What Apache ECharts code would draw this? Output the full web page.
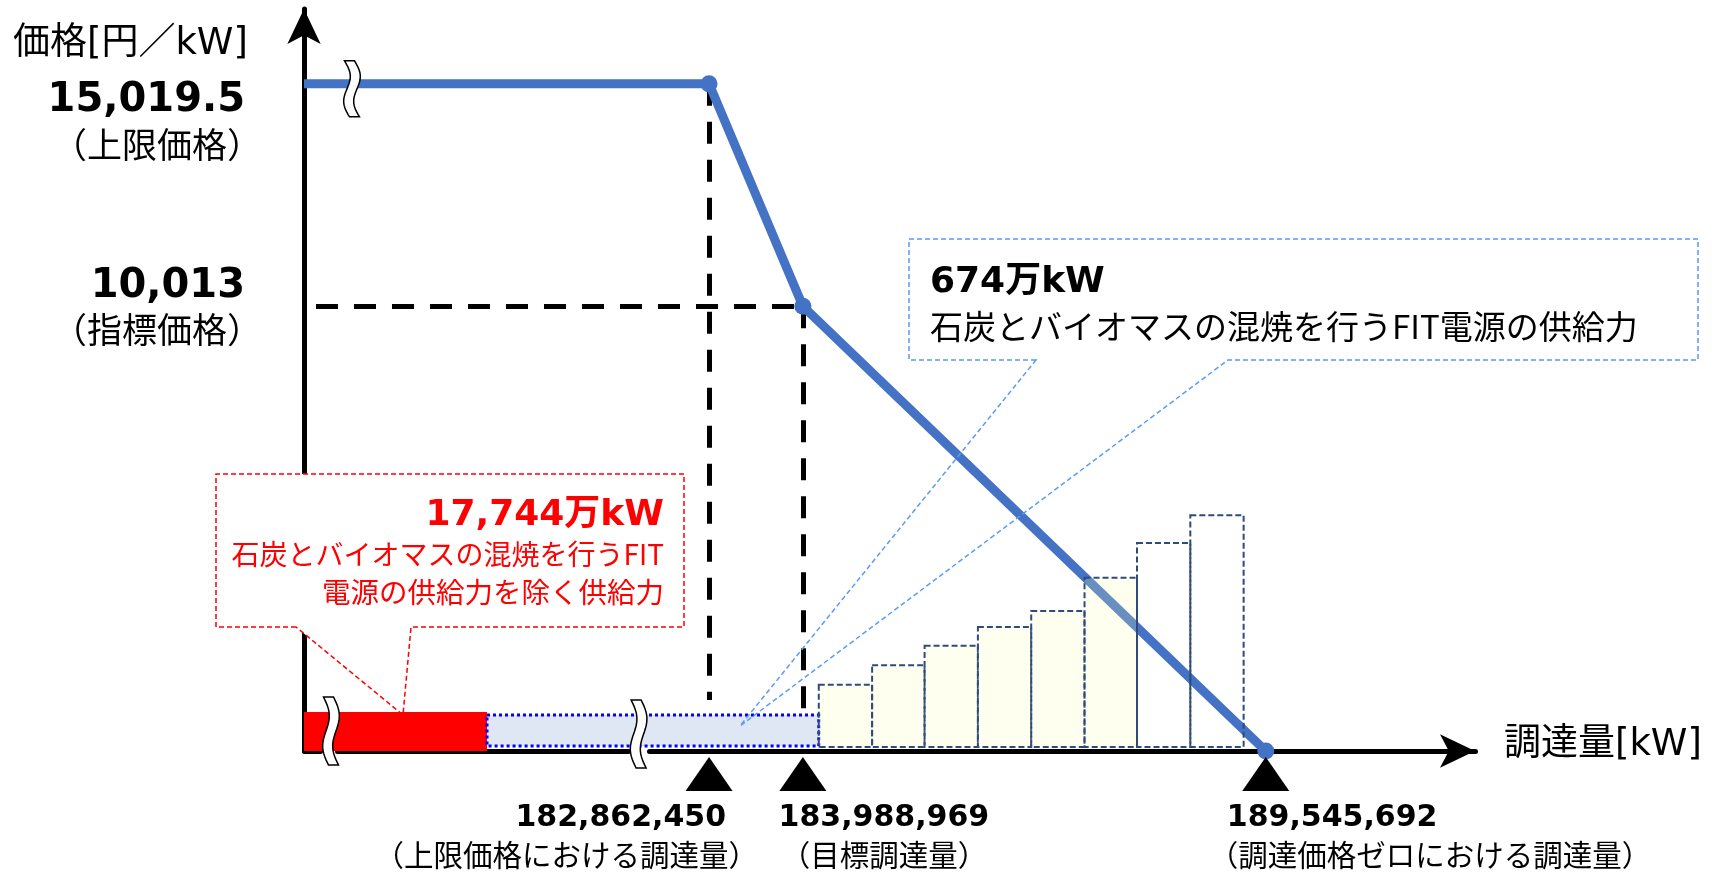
<!DOCTYPE html>
<html lang="ja">
<head>
<meta charset="utf-8">
<title>調達価格と調達量</title>
<script src="https://cdn.jsdelivr.net/npm/echarts@6.0.0/dist/echarts.min.js"></script>
<style>
  html, body { margin: 0; padding: 0; background: #ffffff; }
  #chart { width: 1719px; height: 873px; }
</style>
</head>
<body>
<div id="chart"></div>
<script>
// ---- データ ----
// 需要曲線の折れ点（調達量[kW], 価格[円/kW]）
const curveQty   = [0, 182862450, 183988969, 189545692];
const curvePrice = [15019.5, 15019.5, 10013, 0];

// 横軸に示す調達量とその注記
const keyQty      = [182862450, 183988969, 189545692];
const keyQtyNotes = ['（上限価格における調達量）', '（目標調達量）', '（調達価格ゼロにおける調達量）'];

// 縦軸に示す価格とその注記
const keyPrice      = [15019.5, 10013];
const keyPriceNotes = ['（上限価格）', '（指標価格）'];

// 既存の供給力（万kW）
const blockManKW = [17744, 674];
const blockNotes = [
  ['石炭とバイオマスの混焼を行うFIT', '電源の供給力を除く供給力'],
  ['石炭とバイオマスの混焼を行うFIT電源の供給力']
];

// 応札（調達量の区間[kW]と応札価格[円/kW]）
const bidFrom  = [184180000, 184820000, 185450000, 186090000, 186730000, 187370000, 188000000, 188640000];
const bidTo    = [184820000, 185450000, 186090000, 186730000, 187370000, 188000000, 188640000, 189280000];
const bidPrice = [1490, 1930, 2370, 2790, 3150, 3900, 4680, 5310];

// ---- 軸の設定 ----
const X_MAX = 192057600;
const Y_MAX = 16705;
// 横軸の省略区間（gap は値の単位）
const X_BREAKS = [
  { start: 200000,    end: 175643000, gap: 200000 },
  { start: 179130000, end: 182147000, gap: 260000 }
];

const FONT_NUM = "'DejaVu Sans', 'Noto Sans CJK JP', sans-serif";
const FONT_JP  = "'Noto Sans CJK JP', 'Noto Sans', sans-serif";
const LINE_BLUE = '#4472C4';

const fmt = v => v.toLocaleString('en-US', { maximumFractionDigits: 1 });

// 供給力ブロックの区間（累積）
const blockRows = [];
let acc = 0;
blockManKW.forEach((m, i) => {
  const from = acc;
  acc += m * 10000;
  blockRows.push([from, acc, i]);
});

// 需要曲線上の価格（応札の約定判定用）
function curveAt(q) {
  for (let i = 1; i < curveQty.length; i++) {
    if (q <= curveQty[i]) {
      const t = (q - curveQty[i - 1]) / (curveQty[i] - curveQty[i - 1]);
      return curvePrice[i - 1] + t * (curvePrice[i] - curvePrice[i - 1]);
    }
  }
  return 0;
}
const bidRows = bidFrom.map((f, i) => [f, bidTo[i], bidPrice[i], bidPrice[i] <= curveAt(f) ? 1 : 0]);

// ブロックの見た目（高さは軸からのピクセル）
const BLOCK_LOOK = [
  { top: 39, bottom: 0, style: { fill: '#FF0000' } },
  { top: 36, bottom: 5, style: { fill: '#DEE7F3', stroke: '#0000FF', lineWidth: 3, lineDash: [3, 3] } }
];
const BID_LIFT = 4;

const chart = echarts.init(document.getElementById('chart'), null, { renderer: 'canvas' });

const option = {
  animation: false,
  backgroundColor: '#ffffff',
  grid: { left: 304, top: 9, width: 1171, height: 742 },
  xAxis: {
    type: 'value', min: 0, max: X_MAX,
    breaks: X_BREAKS,
    breakArea: { show: false, itemStyle: { opacity: 0, borderWidth: 0 }, zigzagAmplitude: 0 },
    axisLine: { show: true, onZero: true, symbol: ['none', 'arrow'], symbolSize: [25, 35],
      lineStyle: { color: '#000', width: 5 } },
    axisTick: { show: false }, axisLabel: { show: false }, splitLine: { show: false }
  },
  yAxis: {
    type: 'value', min: 0, max: Y_MAX,
    axisLine: { show: true, onZero: false, symbol: ['none', 'arrow'], symbolSize: [25, 35],
      lineStyle: { color: '#000', width: 5 } },
    axisTick: { show: false }, axisLabel: { show: false }, splitLine: { show: false }
  },
  series: [
    {
      name: '供給力', type: 'custom', z: 2, clip: false, silent: true,
      data: blockRows,
      encode: { x: [0, 1] },
      renderItem: (params, api) => {
        const a = api.coord([api.value(0), 0]);
        const b = api.coord([api.value(1), 0]);
        const look = BLOCK_LOOK[params.dataIndex];
        return {
          type: 'rect',
          shape: { x: a[0], y: a[1] - look.top, width: b[0] - a[0], height: look.top - look.bottom },
          style: look.style
        };
      }
    },
    {
      name: '需要曲線', type: 'line', z: 3, clip: false, silent: true,
      data: curveQty.map((q, i) => ({ value: [q, curvePrice[i]], symbol: i === 0 ? 'none' : 'circle' })),
      symbolSize: 17,
      lineStyle: { color: LINE_BLUE, width: 9 },
      itemStyle: { color: LINE_BLUE },
      markLine: {
        silent: true, z: 1, symbol: ['none', 'none'],
        label: { show: false },
        lineStyle: { color: '#000', width: 5, type: [22, 16] },
        data: [
          [{ coord: [keyQty[0], keyPrice[0]] }, { coord: [keyQty[0], 1150] }],
          [{ coord: [144000, keyPrice[1]] }, { coord: [keyQty[1], keyPrice[1]] }],
          [{ coord: [keyQty[1], keyPrice[1]] }, { coord: [keyQty[1], 860] }]
        ]
      },
      markPoint: {
        silent: true, symbol: 'triangle', symbolSize: [47, 34], symbolOffset: [0, 23],
        itemStyle: { color: '#000' }, label: { show: false },
        data: keyQty.map(q => ({ coord: [q, 0] }))
      }
    },
    {
      name: '応札', type: 'custom', z: 4, clip: false, silent: true,
      data: bidRows,
      encode: { x: [0, 1], y: 2 },
      renderItem: (params, api) => {
        const a = api.coord([api.value(0), api.value(2)]);
        const b = api.coord([api.value(1), 0]);
        return {
          type: 'rect',
          shape: { x: a[0], y: a[1], width: b[0] - a[0], height: b[1] - BID_LIFT - a[1] },
          style: {
            fill: api.value(3) ? 'rgba(255,255,180,0.2)' : 'none',
            stroke: '#2F4B7C', lineWidth: 2, lineDash: [6, 3]
          }
        };
      }
    }
  ]
};
chart.setOption(option);

// ---- 注記 ----
const toPx = (x, y) => chart.convertToPixel({ gridIndex: 0 }, [x, y]);
const origin = toPx(0, 0);

function label(text, x, y, size, opts) {
  opts = opts || {};
  return {
    type: 'text', z: 30, x: x, y: y, silent: true,
    style: {
      text: text, fill: opts.color || '#000', fontSize: size,
      fontFamily: opts.family || FONT_JP, fontWeight: opts.weight || 'normal',
      align: opts.align || 'left', textAlign: opts.align || 'left', verticalAlign: 'middle'
    }
  };
}

// 省略記号（波形の帯）
function squiggle(cx, cy, h) {
  const pts = [], back = [];
  const n = 24;
  for (let k = 0; k <= n; k++) {
    const t = k / n;
    const c = 4.5 * Math.sin(2 * Math.PI * t) + (t - 0.5) * 5;
    const y = -h / 2 + h * t;
    pts.push([cx + c - 5, cy + y]);
    back.unshift([cx + c + 5, cy + y]);
  }
  return {
    type: 'polygon', z: 40, silent: true,
    shape: { points: pts.concat(back) },
    style: { fill: '#ffffff', stroke: '#000', lineWidth: 1.5 }
  };
}

const g = [];

// 軸名
g.push(label('価格[円／kW]', 13, 44, 37, { family: FONT_NUM }));
g.push(label('調達量[kW]', 1504, 745, 37, { family: FONT_NUM }));

// 縦軸の価格
const PRICE_NUM_DY = [17, -20];
const PRICE_NOTE_DY = [61, 23];
keyPrice.forEach((p, i) => {
  const y = toPx(0, p)[1];
  g.push(label(fmt(p), origin[0] - 59, y + PRICE_NUM_DY[i], 40,
    { family: FONT_NUM, weight: 'bold', align: 'right' }));
  g.push(label(keyPriceNotes[i], origin[0] - 42, y + PRICE_NOTE_DY[i], 35, { align: 'right' }));
});

// 横軸の調達量
const QTY_LAYOUT = [
  { num: 17, note: 49, align: 'right' },
  { num: 81, note: 81, align: 'center' },
  { num: -39, note: -57, align: 'left' }
];
keyQty.forEach((q, i) => {
  const x = toPx(q, 0)[0];
  const L = QTY_LAYOUT[i];
  g.push(label(fmt(q), x + L.num, origin[1] + 67, 30, { family: FONT_NUM, weight: 'bold', align: L.align }));
  g.push(label(keyQtyNotes[i], x + L.note, origin[1] + 104, 29.5, { align: L.align }));
});

// 吹き出し：石炭とバイオマスの混焼を行うFIT電源の供給力を除く供給力
g.push({
  type: 'polygon', z: 1, silent: true,
  shape: { points: [[296, 627], [216, 627], [216, 474], [684, 474], [684, 627], [411, 627], [403, 715]] },
  style: { fill: '#ffffff', stroke: '#FF0000', lineWidth: 1.5, lineDash: [5, 3] }
});
g.push(label(fmt(blockManKW[0]) + '万kW', 664, 516, 36, { family: FONT_NUM, weight: 'bold', align: 'right', color: '#FF0000' }));
g.push(label(blockNotes[0][0], 664, 554, 28, { align: 'right', color: '#FF0000' }));
g.push(label(blockNotes[0][1], 664, 592, 28.5, { align: 'right', color: '#FF0000' }));

// 吹き出し：石炭とバイオマスの混焼を行うFIT電源の供給力
g.push({
  type: 'polygon', z: 6, silent: true,
  shape: { points: [[1036, 360], [909, 360], [909, 239], [1698, 239], [1698, 360], [1228, 360], [740, 726]] },
  style: { fill: 'none', stroke: '#5B9BF5', lineWidth: 1.5, lineDash: [5, 3] }
});
g.push(label(fmt(blockManKW[1]) + '万kW', 930, 283, 36, { family: FONT_NUM, weight: 'bold' }));
g.push(label(blockNotes[1][0], 930, 326, 33));

// 省略記号
const br0 = toPx((X_BREAKS[0].start + X_BREAKS[0].end) / 2, 0)[0];
const br1 = toPx((X_BREAKS[1].start + X_BREAKS[1].end) / 2, 0)[0];
g.push(squiggle(br0 + 2, origin[1] - 20, 68));
g.push(squiggle(br1, origin[1] - 17, 68));
g.push(squiggle(br0 + 23, toPx(0, keyPrice[0])[1] + 5, 56));

chart.setOption({ graphic: { elements: g } });
</script>
</body>
</html>
